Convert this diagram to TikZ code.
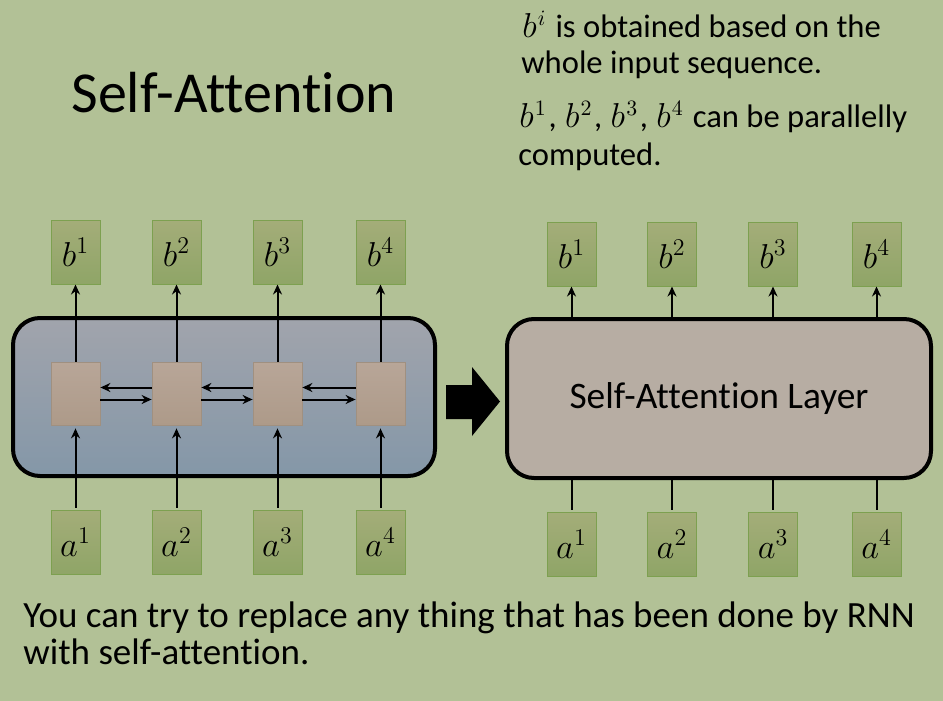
\documentclass[tikz,border=0pt]{standalone}
\usepackage{fontspec}
\setmainfont{Carlito}[Ligatures=NoCommon]
\usetikzlibrary{arrows.meta}
\definecolor{bg}{HTML}{B2C196}
\definecolor{gtop}{HTML}{A4AD79}
\definecolor{gbot}{HTML}{8FA567}
\definecolor{gline}{HTML}{7DA050}
\definecolor{btop}{HTML}{A1A4AC}
\definecolor{bbot}{HTML}{8497A8}
\definecolor{ttop}{HTML}{B8A698}
\definecolor{tbot}{HTML}{AD9A89}
\definecolor{tline}{HTML}{A09080}
\definecolor{safill}{HTML}{B7ADA3}
\newcommand{\mbv}[1]{\kern0.5pt$b^{\kern0.6pt#1}$\kern0.8pt\relax}
\tikzset{
  vecbox/.style={draw=gline, line width=0.5pt, top color=gtop, bottom color=gbot,
    minimum width=24.5pt, minimum height=32pt, inner sep=0pt,
    font=\fontsize{18}{20}\selectfont},
  cellbox/.style={draw=tline, line width=0.4pt, top color=ttop, bottom color=tbot,
    minimum width=24.5pt, minimum height=31.5pt, inner sep=0pt},
  bigbox/.style={draw=black, line width=2pt, rounded corners=13.5pt, inner sep=0pt},
  arr/.style={line width=1pt, -{Stealth[length=5pt,width=4.5pt]}},
  plain/.style={line width=1pt},
  txt/.style={inner sep=0pt, anchor=base west},
  toptxt/.style={txt, font=\fontsize{16.3}{19}\selectfont},
  bottxt/.style={txt, font=\fontsize{18.5}{22}\selectfont}
}
\begin{document}
\begin{tikzpicture}[x=0.5pt,y=-0.5pt]
\useasboundingbox (0,0) rectangle (943,701);
\fill[bg] (0,0) rectangle (943,701);

% title and texts
\node[txt, font=\fontsize{29}{34}\selectfont] (title) at (71,113) {Self-Attention};
\node[toptxt] (t1) at (521,38) {\mbv{i} is obtained based on the};
\node[toptxt] (t2) at (521,74) {whole input sequence.};
\node[toptxt] (t3) at (518,128) {\mbv{1}, \mbv{2}, \mbv{3}, \mbv{4} can be parallelly};
\node[toptxt] (t4) at (518,166) {computed.};
\node[bottxt] (bot1) at (23,627) {You can try to replace any thing that has been done by RNN};
\node[bottxt] (bot2) at (23,664) {with self-attention.};

% left: RNN
\node[bigbox, top color=btop, bottom color=bbot, minimum width=211pt, minimum height=79pt] (rnn) at (224,397) {};
\foreach \i/\x in {1/75.5,2/176.5,3/277.5,4/380.5}{
  \node[vecbox] (lb\i) at (\x,252) {$b^{\i}$};
  \node[vecbox] (la\i) at (\x,542) {$a^{\i}$};
  \node[cellbox] (h\i) at (\x,393.5) {};
  \draw[arr] (h\i.north) -- (lb\i.south);
  \draw[arr, shorten <=1pt] (la\i.north) -- ([yshift=-1.5pt]h\i.south);
}
\foreach \i/\j in {1/2,2/3,3/4}{
  \draw[arr] ([yshift=3pt]h\j.west) -- ([yshift=3pt]h\i.east);
  \draw[arr] ([yshift=-3pt]h\i.east) -- ([yshift=-3pt]h\j.west);
}

% big arrow
\fill[black] (446,385) -- (472,385) -- (472,367) -- (500,401.5) -- (472,436) -- (472,419) -- (446,419) -- cycle;

% right: self-attention
\node[bigbox, fill=safill, minimum width=212pt, minimum height=79.5pt,
  font=\fontsize{18.7}{22}\selectfont] (sa) at (719,398.5) {Self-Attention Layer};
\foreach \i/\x in {1/571.5,2/672,3/773,4/876.5}{
  \node[vecbox] (rb\i) at (\x,254) {$b^{\i}$};
  \node[vecbox] (ra\i) at (\x,544) {$a^{\i}$};
  \draw[arr] (sa.north -| rb\i) -- (rb\i.south);
  \draw[plain, shorten <=1pt] (ra\i.north) -- (sa.south -| ra\i);
}
\end{tikzpicture}
\end{document}
